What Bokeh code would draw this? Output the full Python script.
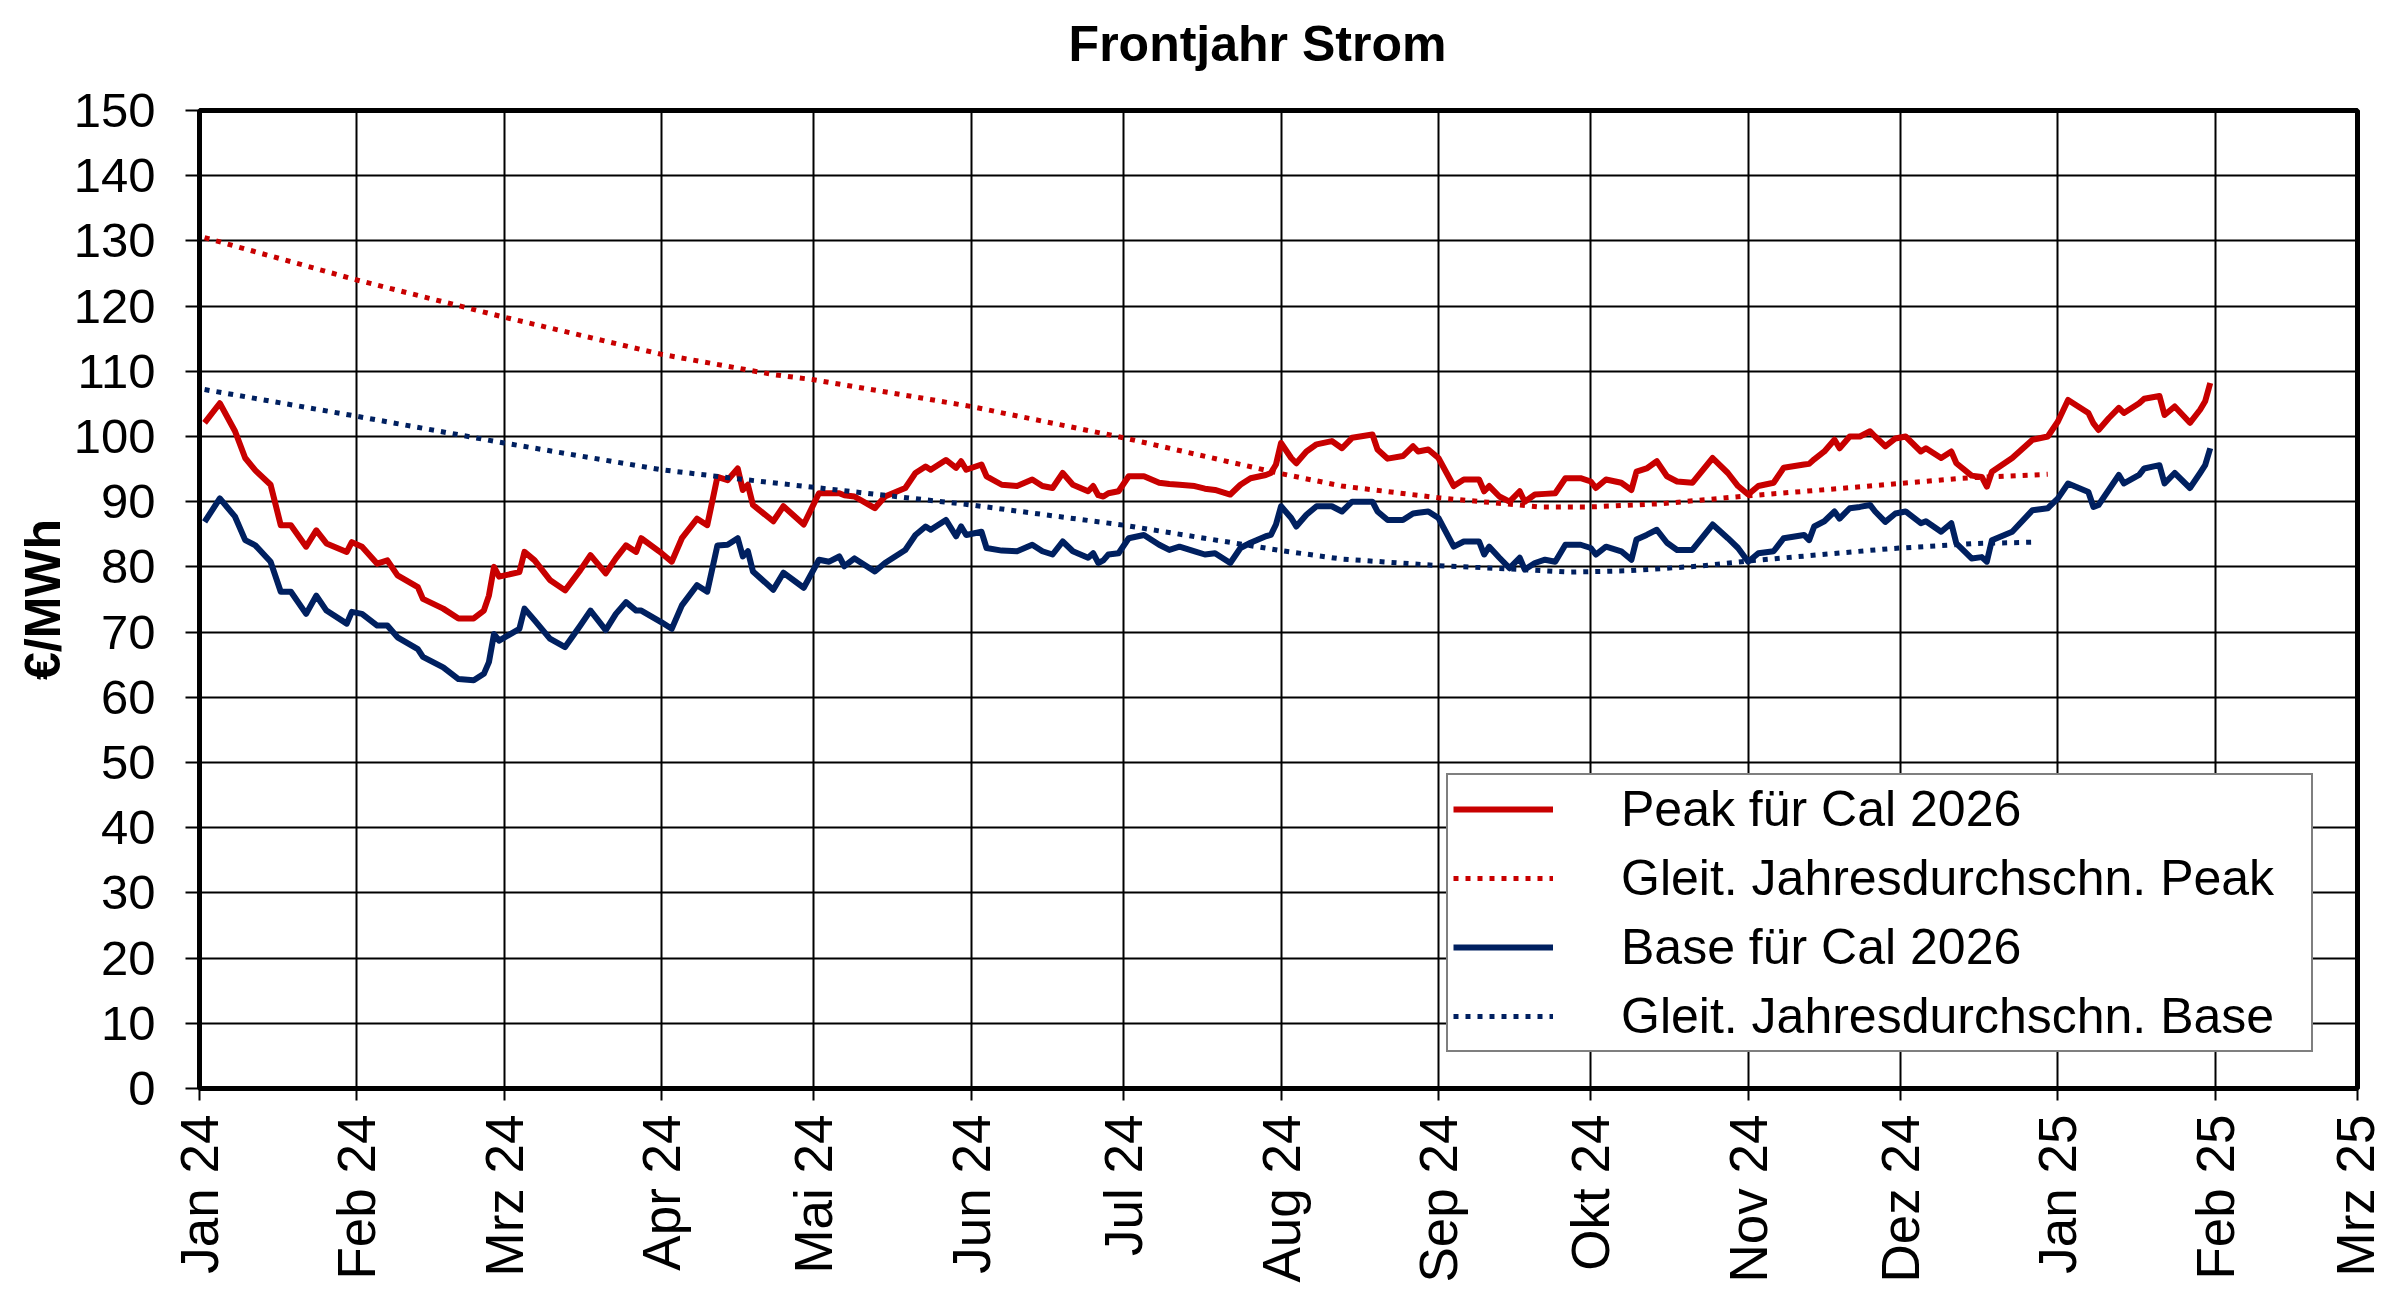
import pandas as pd
from bokeh.plotting import figure
from bokeh.models import (Range1d, FixedTicker, CustomJSTickFormatter, Legend,
                          LegendItem, SingleIntervalTicker, Label)
from bokeh.embed import file_html
from bokeh.resources import INLINE

FONT = "Liberation Sans"
RED = "#C80000"
NAVY = "#002060"

title_text = "Frontjahr Strom"
y_label = "€/MWh"
month_names = ["Jan", "Feb", "Mrz", "Apr", "Mai", "Jun", "Jul", "Aug",
               "Sep", "Okt", "Nov", "Dez"]
x_ticks = ["2024-01-01", "2024-02-01", "2024-03-01", "2024-04-01", "2024-05-01",
           "2024-06-01", "2024-07-01", "2024-08-01", "2024-09-01", "2024-10-01",
           "2024-11-01", "2024-12-01", "2025-01-01", "2025-02-01", "2025-03-01"]

dates = [
    "2024-01-02", "2024-01-05", "2024-01-08", "2024-01-10", "2024-01-12", "2024-01-15",
    "2024-01-17", "2024-01-19", "2024-01-22", "2024-01-24", "2024-01-26", "2024-01-30",
    "2024-01-31", "2024-02-02", "2024-02-05", "2024-02-07", "2024-02-09", "2024-02-13",
    "2024-02-14", "2024-02-18", "2024-02-21", "2024-02-24", "2024-02-26", "2024-02-27",
    "2024-02-28", "2024-02-29", "2024-03-04", "2024-03-05", "2024-03-07", "2024-03-10",
    "2024-03-13", "2024-03-16", "2024-03-18", "2024-03-21", "2024-03-23", "2024-03-25",
    "2024-03-27", "2024-03-28", "2024-04-01", "2024-04-03", "2024-04-05", "2024-04-08",
    "2024-04-10", "2024-04-12", "2024-04-14", "2024-04-16", "2024-04-17", "2024-04-18",
    "2024-04-19", "2024-04-23", "2024-04-25", "2024-04-29", "2024-05-02", "2024-05-04",
    "2024-05-06", "2024-05-07", "2024-05-09", "2024-05-13", "2024-05-15", "2024-05-19",
    "2024-05-21", "2024-05-23", "2024-05-24", "2024-05-27", "2024-05-29", "2024-05-30",
    "2024-05-31", "2024-06-03", "2024-06-04", "2024-06-07", "2024-06-10", "2024-06-13",
    "2024-06-15", "2024-06-17", "2024-06-19", "2024-06-21", "2024-06-24", "2024-06-25",
    "2024-06-26", "2024-06-27", "2024-06-28", "2024-06-30", "2024-07-02", "2024-07-05",
    "2024-07-08", "2024-07-10", "2024-07-12", "2024-07-15", "2024-07-17", "2024-07-19",
    "2024-07-22", "2024-07-24", "2024-07-26", "2024-07-29", "2024-07-30", "2024-07-31",
    "2024-08-01", "2024-08-03", "2024-08-04", "2024-08-06", "2024-08-08", "2024-08-11",
    "2024-08-13", "2024-08-15", "2024-08-19", "2024-08-20", "2024-08-22", "2024-08-25",
    "2024-08-27", "2024-08-28", "2024-08-30", "2024-09-01", "2024-09-04", "2024-09-06",
    "2024-09-09", "2024-09-10", "2024-09-11", "2024-09-13", "2024-09-15", "2024-09-17",
    "2024-09-18", "2024-09-20", "2024-09-22", "2024-09-24", "2024-09-26", "2024-09-29",
    "2024-10-01", "2024-10-02", "2024-10-04", "2024-10-07", "2024-10-09", "2024-10-10",
    "2024-10-12", "2024-10-14", "2024-10-16", "2024-10-18", "2024-10-21", "2024-10-25",
    "2024-10-28", "2024-10-30", "2024-11-01", "2024-11-03", "2024-11-06", "2024-11-08",
    "2024-11-12", "2024-11-13", "2024-11-14", "2024-11-16", "2024-11-18", "2024-11-19",
    "2024-11-21", "2024-11-23", "2024-11-25", "2024-11-26", "2024-11-28", "2024-11-30",
    "2024-12-02", "2024-12-05", "2024-12-06", "2024-12-09", "2024-12-11", "2024-12-12",
    "2024-12-15", "2024-12-17", "2024-12-18", "2024-12-19", "2024-12-23", "2024-12-27",
    "2024-12-30", "2025-01-01", "2025-01-03", "2025-01-07", "2025-01-08", "2025-01-09",
    "2025-01-11", "2025-01-13", "2025-01-14", "2025-01-17", "2025-01-18", "2025-01-21",
    "2025-01-22", "2025-01-24", "2025-01-27", "2025-01-29", "2025-01-30", "2025-01-31",
]

peak = [
    102.1, 105.1, 100.8, 96.7, 94.8, 92.6,
    86.4, 86.4, 83.1, 85.6, 83.6, 82.3,
    83.8, 83.1, 80.5, 81.0, 78.7, 76.9,
    75.1, 73.6, 72.1, 72.1, 73.3, 75.6,
    80.0, 78.5, 79.2, 82.3, 81.0, 78.0,
    76.4, 79.5, 81.8, 79.0, 81.3, 83.3,
    82.3, 84.4, 82.1, 80.8, 84.4, 87.4,
    86.4, 93.8, 93.3, 95.1, 91.8, 92.6,
    89.5, 87.0, 89.3, 86.5, 91.3, 91.3,
    91.3, 91.0, 90.8, 89.0, 90.8, 92.1,
    94.4, 95.4, 94.9, 96.4, 95.2, 96.2,
    94.9, 95.7, 93.9, 92.6, 92.4, 93.4,
    92.4, 92.1, 94.4, 92.6, 91.6, 92.4,
    91.0, 90.8, 91.3, 91.6, 93.9, 93.9,
    92.9, 92.7, 92.6, 92.4, 92.0, 91.8,
    91.1, 92.6, 93.6, 94.1, 94.4, 95.7,
    99.0, 96.7, 95.9, 97.7, 98.8, 99.3,
    98.2, 99.8, 100.3, 98.0, 96.6, 97.0,
    98.5, 97.7, 98.0, 96.7, 92.4, 93.4,
    93.4, 91.6, 92.4, 90.8, 90.0, 91.6,
    90.0, 91.1, 91.2, 91.3, 93.6, 93.6,
    93.1, 92.1, 93.4, 92.9, 91.8, 94.6,
    95.1, 96.2, 93.9, 93.1, 92.9, 96.7,
    94.4, 92.4, 91.1, 92.4, 92.9, 95.2,
    95.7, 95.8, 96.5, 97.7, 99.5, 98.2,
    100.0, 100.0, 100.8, 100.0, 98.5, 99.7,
    100.0, 97.7, 98.2, 96.7, 97.7, 95.9,
    94.0, 93.8, 92.3, 94.6, 96.7, 99.5,
    100.0, 102.3, 105.6, 103.6, 102.0, 101.0,
    102.8, 104.4, 103.6, 105.1, 105.8, 106.2,
    103.3, 104.6, 102.1, 104.1, 105.4, 108.2,
]

base = [
    86.9, 90.5, 87.7, 84.1, 83.3, 80.8,
    76.2, 76.2, 72.8, 75.6, 73.3, 71.3,
    73.1, 72.8, 71.0, 71.0, 69.2, 67.4,
    66.2, 64.6, 62.8, 62.6, 63.6, 65.4,
    69.7, 68.7, 70.5, 73.6, 71.8, 69.0,
    67.7, 71.0, 73.3, 70.3, 72.8, 74.6,
    73.3, 73.3, 71.5, 70.5, 74.1, 77.2,
    76.2, 83.3, 83.4, 84.4, 81.6, 82.4,
    79.3, 76.5, 79.1, 76.8, 81.1, 80.8,
    81.6, 80.1, 81.3, 79.3, 80.6, 82.6,
    84.9, 86.2, 85.7, 87.2, 84.7, 86.2,
    84.9, 85.4, 82.9, 82.5, 82.4, 83.4,
    82.4, 81.9, 83.9, 82.4, 81.4, 82.1,
    80.6, 81.0, 81.9, 82.1, 84.4, 84.9,
    83.4, 82.6, 83.1, 82.4, 81.9, 82.1,
    80.6, 82.9, 83.7, 84.7, 84.9, 86.5,
    89.3, 87.5, 86.2, 88.0, 89.3, 89.3,
    88.5, 90.0, 90.0, 88.5, 87.2, 87.2,
    88.2, 88.3, 88.5, 87.5, 83.1, 83.9,
    83.9, 81.9, 83.1, 81.4, 79.8, 81.4,
    79.6, 80.6, 81.1, 80.8, 83.4, 83.4,
    82.9, 81.9, 83.1, 82.4, 81.1, 84.2,
    84.9, 85.7, 83.7, 82.6, 82.6, 86.5,
    84.4, 82.9, 80.8, 82.1, 82.4, 84.4,
    84.9, 84.1, 86.2, 87.0, 88.5, 87.4,
    89.0, 89.2, 89.5, 88.5, 86.9, 88.2,
    88.5, 86.7, 87.0, 85.4, 86.7, 83.6,
    81.3, 81.5, 80.8, 84.1, 85.4, 88.7,
    89.0, 90.5, 92.8, 91.5, 89.2, 89.5,
    91.8, 94.1, 92.8, 94.1, 95.1, 95.6,
    92.8, 94.4, 92.1, 94.4, 95.6, 98.2,
]

avg_peak_dates = ["2024-01-02", "2024-02-01", "2024-03-01", "2024-04-01", "2024-04-23",
                  "2024-05-01", "2024-06-01", "2024-07-01", "2024-08-01", "2024-08-13",
                  "2024-09-01", "2024-09-21", "2024-10-01", "2024-10-15", "2024-11-01",
                  "2024-11-17", "2024-12-01", "2024-12-13", "2024-12-30"]
avg_peak = [130.5, 124.0, 118.3, 112.6, 109.5,
            108.7, 104.6, 99.8, 94.3, 92.4,
            90.6, 89.2, 89.2, 89.7, 90.9,
            91.9, 92.8, 93.6, 94.2]

avg_base_dates = ["2024-01-02", "2024-02-01", "2024-03-01", "2024-04-01", "2024-04-15",
                  "2024-05-01", "2024-06-01", "2024-07-01", "2024-08-01", "2024-08-13",
                  "2024-09-01", "2024-09-17", "2024-09-27", "2024-10-08", "2024-10-22",
                  "2024-11-01", "2024-11-17", "2024-11-29", "2024-12-16", "2024-12-28"]
avg_base = [107.2, 103.1, 99.0, 94.9, 93.6,
            92.2, 89.5, 86.4, 82.5, 81.2,
            80.2, 79.6, 79.2, 79.4, 80.1,
            80.9, 82.0, 82.8, 83.6, 83.8]

labels = ["Peak für Cal 2026", "Gleit. Jahresdurchschn. Peak",
          "Base für Cal 2026", "Gleit. Jahresdurchschn. Base"]

x = pd.to_datetime(dates)
xp = pd.to_datetime(avg_peak_dates)
xb = pd.to_datetime(avg_base_dates)

p = figure(width=2384, height=1288, x_axis_type="datetime",
           output_backend="svg", toolbar_location=None,
           x_range=Range1d(pd.Timestamp(x_ticks[0]), pd.Timestamp(x_ticks[-1])),
           y_range=Range1d(0, 150),
           min_border_left=199, min_border_right=27,
           min_border_top=110, min_border_bottom=200)

p.background_fill_color = "white"
p.border_fill_color = "white"
p.outline_line_color = "black"
p.outline_line_width = 5

# title: a label placed in the panel above the frame
title = Label(x=1058, y=67, x_units="screen", y_units="screen",
              text=title_text, text_font=FONT, text_font_size="50px",
              text_font_style="bold", text_color="black",
              text_align="center", text_baseline="middle")
p.add_layout(title, "above")

# axes
tick_ms = [pd.Timestamp(t).timestamp() * 1000 for t in x_ticks]
p.xaxis.ticker = FixedTicker(ticks=tick_ms)
p.xaxis.formatter = CustomJSTickFormatter(args=dict(names=month_names), code="""
const d = new Date(tick);
const yy = String(d.getUTCFullYear() % 100).padStart(2, '0');
return names[d.getUTCMonth()] + " " + yy;
""")
p.xaxis.major_label_orientation = 3.14159265 / 2
p.yaxis.ticker = SingleIntervalTicker(interval=10)

for ax in (p.xaxis, p.yaxis):
    ax.axis_line_color = "black"
    ax.axis_line_width = 5
    ax.major_tick_line_color = "black"
    ax.major_tick_line_width = 2
    ax.major_tick_in = 0
    ax.minor_tick_line_color = None
    ax.major_label_text_font = FONT
    ax.major_label_text_color = "black"

p.xaxis.major_label_text_font_size = "53px"
p.yaxis.major_label_text_font_size = "49px"
p.xaxis.major_tick_out = 12
p.xaxis.major_label_standoff = 14
p.yaxis.major_tick_out = 14
p.yaxis.major_label_standoff = 30

p.yaxis.axis_label = y_label
p.yaxis.axis_label_text_font = FONT
p.yaxis.axis_label_text_font_size = "50px"
p.yaxis.axis_label_text_font_style = "bold"
p.yaxis.axis_label_text_color = "black"
p.yaxis.axis_label_standoff = 0

for g in (p.xgrid, p.ygrid):
    g.grid_line_color = "black"
    g.grid_line_width = 2
    g.grid_line_alpha = 1.0

# series
r_peak = p.line(x, peak, line_color=RED, line_width=6, line_join="round")
r_peak_avg = p.line(xp, avg_peak, line_color=RED, line_width=5, line_dash="5 7")
r_base = p.line(x, base, line_color=NAVY, line_width=6, line_join="round")
r_base_avg = p.line(xb, avg_base, line_color=NAVY, line_width=5, line_dash="5 7")

legend = Legend(items=[LegendItem(label=labels[0], renderers=[r_peak]),
                       LegendItem(label=labels[1], renderers=[r_peak_avg]),
                       LegendItem(label=labels[2], renderers=[r_base]),
                       LegendItem(label=labels[3], renderers=[r_base_avg])],
                location=(1247, 36), margin=0, padding=5, spacing=11,
                glyph_width=100, glyph_height=50, label_standoff=68,
                label_width=685, label_height=50,
                label_text_font=FONT, label_text_font_size="50px",
                label_text_color="black",
                border_line_color="black", border_line_width=2,
                background_fill_color="white", background_fill_alpha=1.0)
p.add_layout(legend, "center")

open("out.html", "w").write(file_html(p, INLINE))
